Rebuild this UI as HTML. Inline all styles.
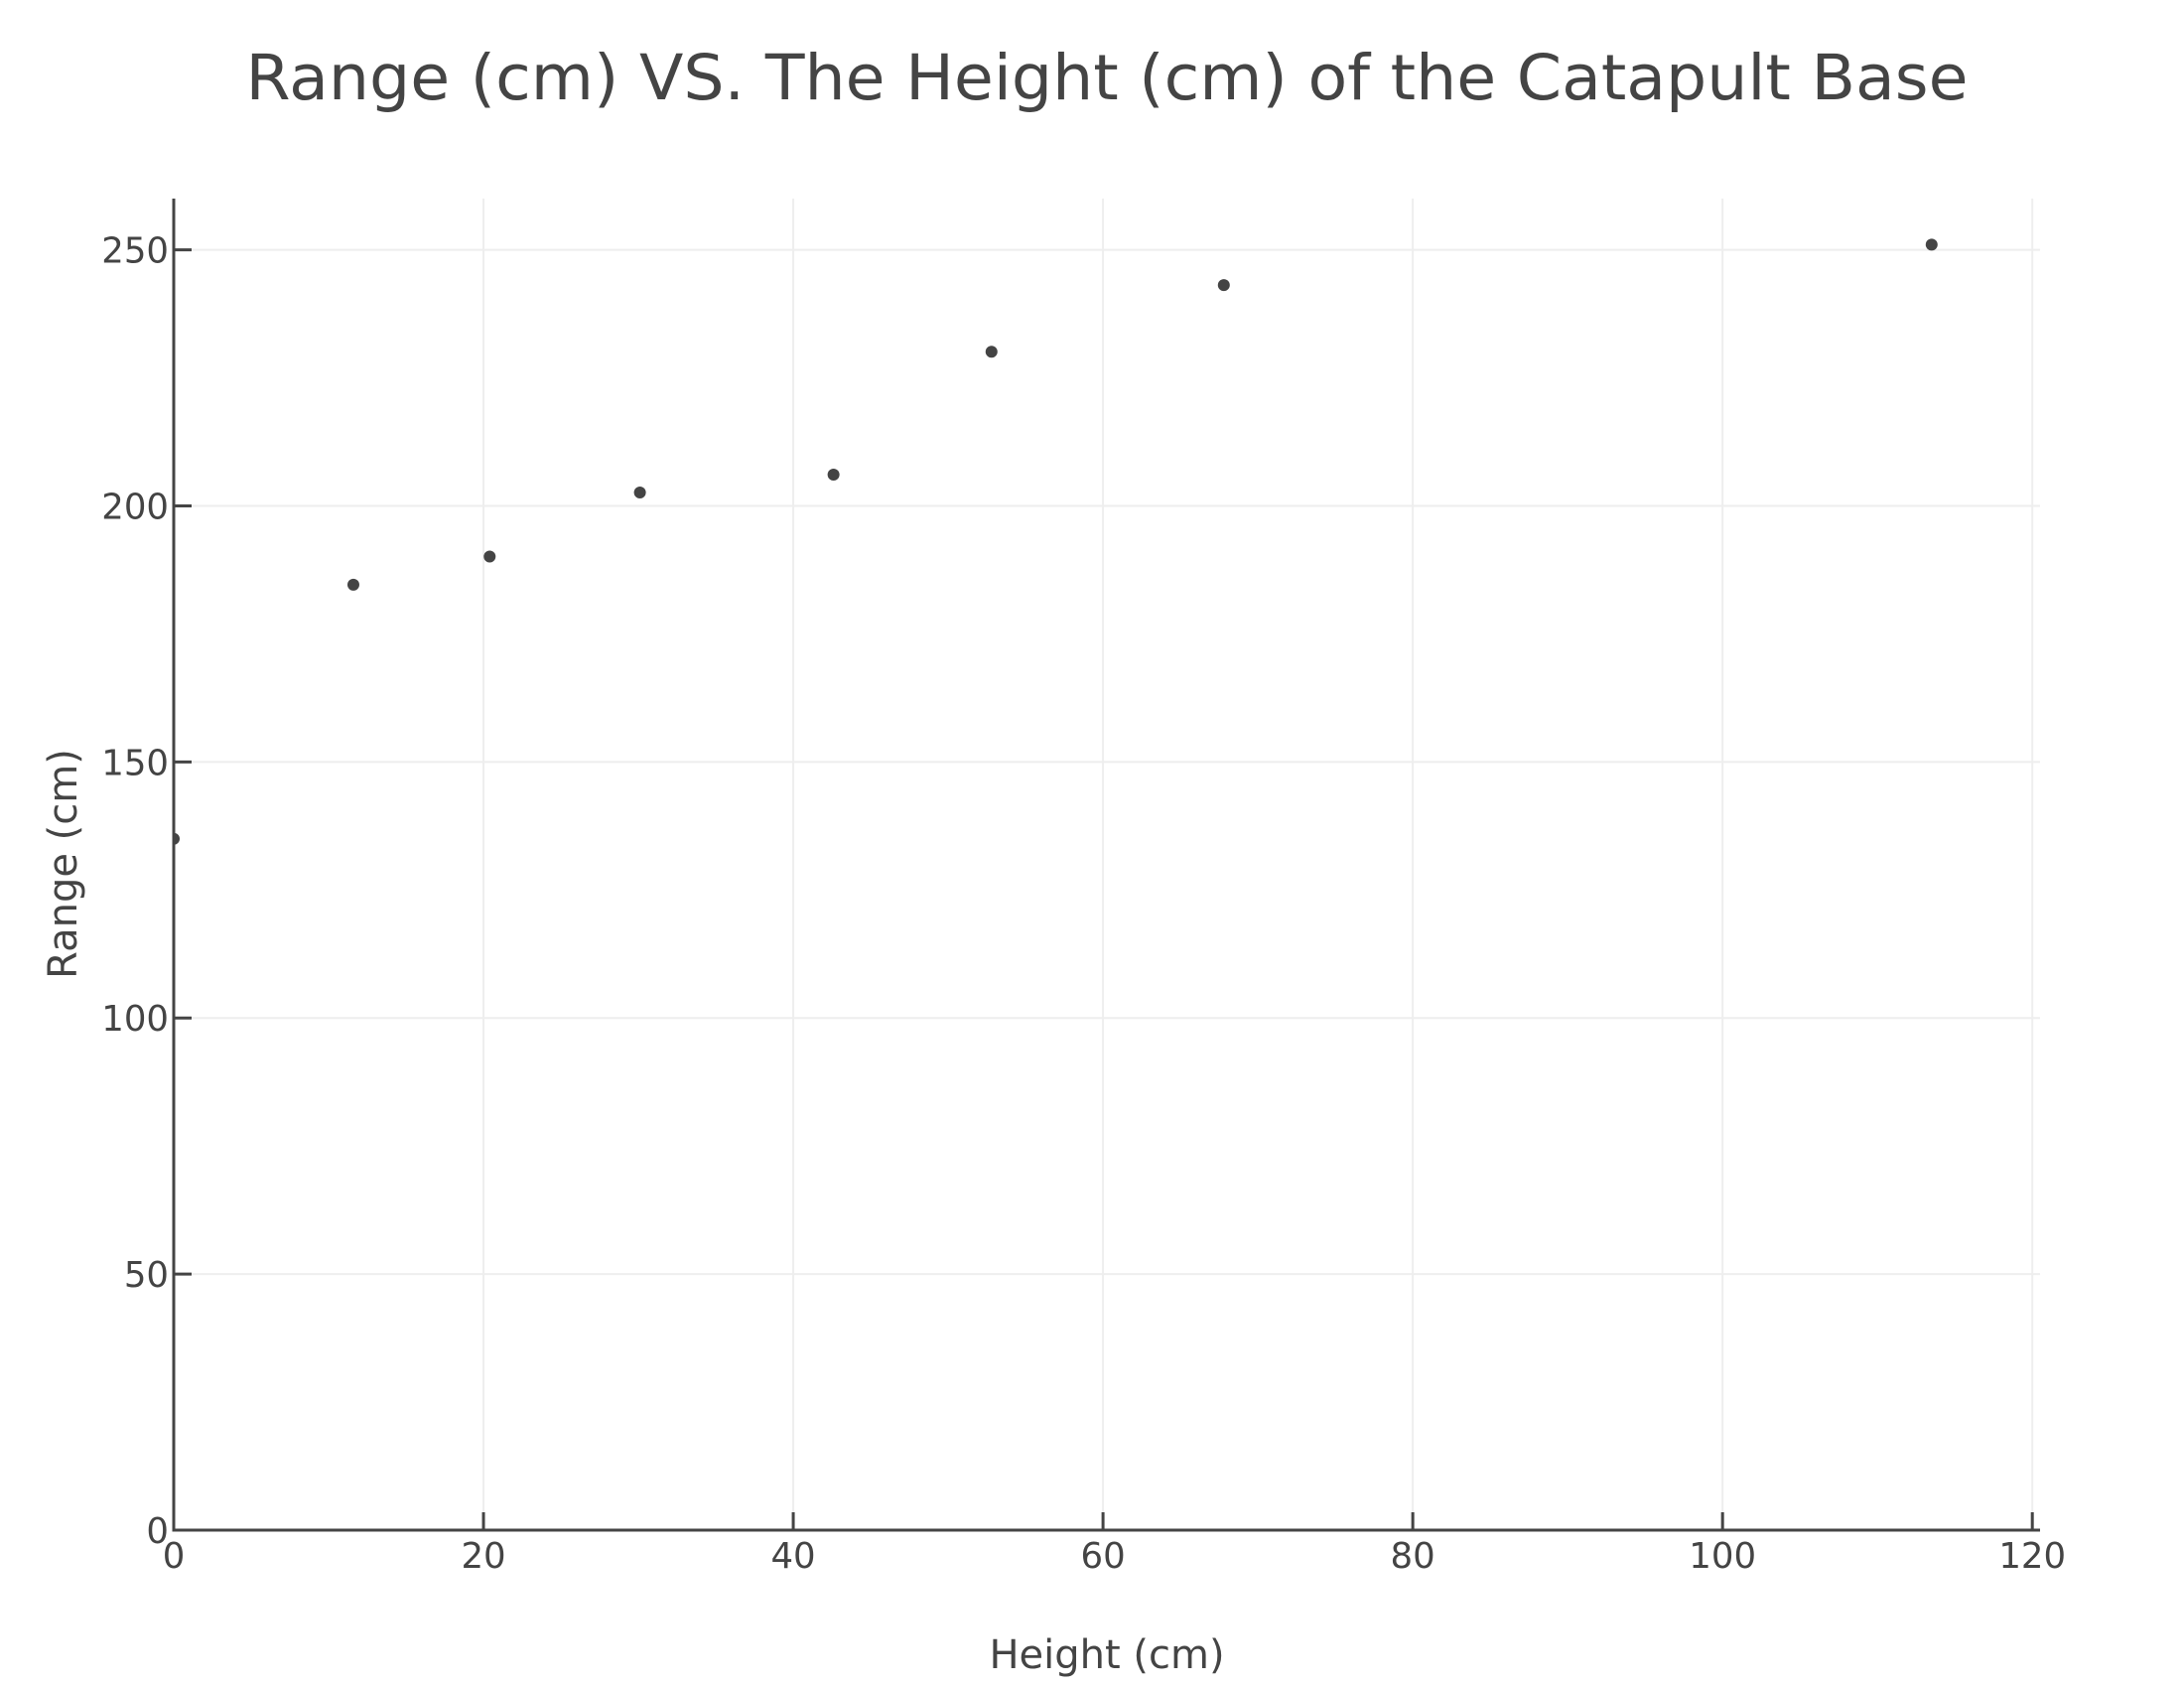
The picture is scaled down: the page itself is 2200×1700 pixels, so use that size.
<!DOCTYPE html>
<html><head><meta charset="utf-8"><style>
html,body{margin:0;padding:0;background:#fff;}
svg{display:block;font-family:"DejaVu Sans","Liberation Sans",sans-serif;}
</style></head><body>
<svg id="chart" width="2200" height="1700" viewBox="0 0 2200 1700">
<rect width="2200" height="1700" fill="#fff"/>
<text x="1115" y="100" text-anchor="middle" font-size="63" fill="#444" textLength="1735" lengthAdjust="spacingAndGlyphs">Range (cm) VS. The Height (cm) of the Catapult Base</text>
<g id="grid"></g>
<g id="axes"></g>
<defs><clipPath id="plotclip"><rect x="175" y="200" width="1880" height="1341"/></clipPath></defs>
<g id="points" clip-path="url(#plotclip)"></g>
<text x="1115" y="1680" text-anchor="middle" font-size="40" fill="#444">Height (cm)</text>
<text x="0" y="0" transform="translate(77,870) rotate(-90)" text-anchor="middle" font-size="40" fill="#444">Range (cm)</text>
</svg>
<script>
const heights = [0, 11.6, 20.4, 30.1, 42.6, 52.8, 67.8, 113.5];
const ranges = [135, 184.6, 190.1, 202.6, 206.1, 230.1, 243.1, 251];
const xTicks = [0, 20, 40, 60, 80, 100, 120];
const yTicks = [0, 50, 100, 150, 200, 250];
const L=175, R=2055, T=200, B=1541, XMAX=120.5, YMAX=260;
function xs(v){return L+(v/XMAX)*(R-L);}
function ys(v){return B-(v/YMAX)*(B-T);}
const NS='http://www.w3.org/2000/svg';
function mk(tag,attrs,parent){const e=document.createElementNS(NS,tag);for(const k in attrs)e.setAttribute(k,attrs[k]);parent.appendChild(e);return e;}
const grid=document.getElementById('grid'), axes=document.getElementById('axes'), pts=document.getElementById('points');
xTicks.forEach(t=>{
  if(t>0){const g=mk('line',{x1:xs(t),x2:xs(t),y1:T,y2:B,stroke:'#eee','stroke-width':2},grid);
  
  }
  const tk=mk('line',{x1:xs(t),x2:xs(t),y1:B,y2:B-18,stroke:'#444','stroke-width':3},axes);
  
  
  const lb=mk('text',{x:xs(t),y:1579,'text-anchor':'middle','font-size':35.5,fill:'#444'},axes);
  lb.textContent=t;
  
  
});
yTicks.forEach(t=>{
  if(t>0){const g=mk('line',{x1:L,x2:R,y1:ys(t),y2:ys(t),stroke:'#eee','stroke-width':2},grid);
  
  }
  const tk=mk('line',{x1:L,x2:L+18,y1:ys(t),y2:ys(t),stroke:'#444','stroke-width':3},axes);
  
  
  const lb=mk('text',{x:170,y:ys(t)+13,'text-anchor':'end','font-size':35.5,fill:'#444'},axes);
  lb.textContent=t;
  
  
});
const xa=mk('line',{x1:L-1.5,x2:R,y1:B,y2:B,stroke:'#444','stroke-width':3},axes);


const ya=mk('line',{x1:L,x2:L,y1:T,y2:B+1.5,stroke:'#444','stroke-width':3},axes);


heights.forEach((h,i)=>{
  const c=mk('circle',{cx:xs(h),cy:ys(ranges[i]),r:6,fill:'#444'},pts);
  
  
});
</script>
</body></html>
